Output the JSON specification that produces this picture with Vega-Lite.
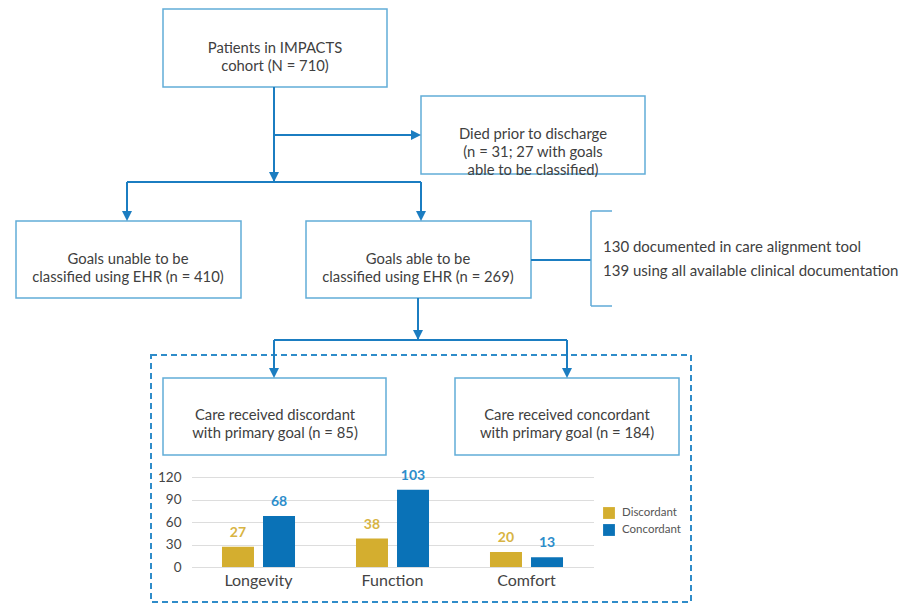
{
  "$schema": "https://vega.github.io/schema/vega-lite/v6.json",
  "width": 914,
  "height": 614,
  "padding": 0,
  "autosize": {"type": "none"},
  "background": "white",
  "config": {"view": {"stroke": null}, "font": "Lato"},
  "datasets": {
    "group": [{"x1": 151, "y1": 355, "x2": 691, "y2": 602}],
    "boxes": [
      {"x1": 163, "y1": 9, "x2": 387, "y2": 87},
      {"x1": 421, "y1": 96, "x2": 645, "y2": 174},
      {"x1": 16, "y1": 221, "x2": 241, "y2": 298},
      {"x1": 306, "y1": 221, "x2": 531, "y2": 298},
      {"x1": 163, "y1": 378, "x2": 386, "y2": 455},
      {"x1": 455, "y1": 378, "x2": 679, "y2": 455}
    ],
    "connectors": [
      {"x1": 274, "y1": 87, "x2": 274, "y2": 182},
      {"x1": 274, "y1": 135, "x2": 418, "y2": 135},
      {"x1": 127, "y1": 182, "x2": 421, "y2": 182},
      {"x1": 127, "y1": 182, "x2": 127, "y2": 219},
      {"x1": 421, "y1": 182, "x2": 421, "y2": 219},
      {"x1": 531, "y1": 260, "x2": 591, "y2": 260},
      {"x1": 418, "y1": 298, "x2": 418, "y2": 340},
      {"x1": 274, "y1": 340, "x2": 567, "y2": 340},
      {"x1": 274, "y1": 340, "x2": 274, "y2": 376},
      {"x1": 567, "y1": 340, "x2": 567, "y2": 376}
    ],
    "bracket": [
      {"x1": 591, "y1": 211, "x2": 591, "y2": 306},
      {"x1": 591, "y1": 211, "x2": 612, "y2": 211},
      {"x1": 591, "y1": 306, "x2": 612, "y2": 306}
    ],
    "arrows": [
      {"x": 274, "y": 182, "dir": "down"},
      {"x": 421, "y": 135, "dir": "right"},
      {"x": 127, "y": 221, "dir": "down"},
      {"x": 421, "y": 221, "dir": "down"},
      {"x": 418, "y": 340, "dir": "down"},
      {"x": 274, "y": 378, "dir": "down"},
      {"x": 567, "y": 378, "dir": "down"}
    ],
    "boxtext": [
      {"x": 275, "y": 49, "label": "Patients in IMPACTS\ncohort (N = 710)"},
      {"x": 533, "y": 135, "label": "Died prior to discharge\n(n = 31; 27 with goals\nable to be classified)"},
      {"x": 128, "y": 260, "label": "Goals unable to be\nclassified using EHR (n = 410)"},
      {"x": 418, "y": 260, "label": "Goals able to be\nclassified using EHR (n = 269)"},
      {"x": 275, "y": 416, "label": "Care received discordant\nwith primary goal (n = 85)"},
      {"x": 567, "y": 416, "label": "Care received concordant\nwith primary goal (n = 184)"}
    ],
    "notes": [
      {"x": 603, "y": 247, "label": "130 documented in care alignment tool"},
      {"x": 603, "y": 271, "label": "139 using all available clinical documentation"}
    ],
    "bars": [
      {"category": "Longevity", "series": "Discordant", "value": 27},
      {"category": "Longevity", "series": "Concordant", "value": 68},
      {"category": "Function", "series": "Discordant", "value": 38},
      {"category": "Function", "series": "Concordant", "value": 103},
      {"category": "Comfort", "series": "Discordant", "value": 20},
      {"category": "Comfort", "series": "Concordant", "value": 13}
    ]
  },
  "layer": [
    {
      "layer": [
        {
          "data": {"name": "group"},
          "mark": {"type": "rect", "fill": "white", "fillOpacity": 0, "stroke": "#2F8CC9", "strokeWidth": 2, "strokeDash": [6, 4]},
          "encoding": {
            "x": {"field": "x1", "type": "quantitative", "scale": {"domain": [0, 914], "range": [0, 914], "nice": false, "zero": false}, "axis": null},
            "x2": {"field": "x2"},
            "y": {"field": "y1", "type": "quantitative", "scale": {"domain": [0, 614], "range": [0, 614], "nice": false, "zero": false}, "axis": null},
            "y2": {"field": "y2"}
          }
        },
        {
          "data": {"name": "boxes"},
          "mark": {"type": "rect", "fill": "white", "stroke": "#62ADD8", "strokeWidth": 1.5},
          "encoding": {
            "x": {"field": "x1", "type": "quantitative", "scale": {"domain": [0, 914], "range": [0, 914], "nice": false, "zero": false}, "axis": null},
            "x2": {"field": "x2"},
            "y": {"field": "y1", "type": "quantitative", "scale": {"domain": [0, 614], "range": [0, 614], "nice": false, "zero": false}, "axis": null},
            "y2": {"field": "y2"}
          }
        },
        {
          "data": {"name": "connectors"},
          "mark": {"type": "rule", "color": "#1B7DC1", "strokeWidth": 2},
          "encoding": {
            "x": {"field": "x1", "type": "quantitative", "scale": {"domain": [0, 914], "range": [0, 914], "nice": false, "zero": false}, "axis": null},
            "x2": {"field": "x2"},
            "y": {"field": "y1", "type": "quantitative", "scale": {"domain": [0, 614], "range": [0, 614], "nice": false, "zero": false}, "axis": null},
            "y2": {"field": "y2"}
          }
        },
        {
          "data": {"name": "bracket"},
          "mark": {"type": "rule", "color": "#5FAAD7", "strokeWidth": 1.5},
          "encoding": {
            "x": {"field": "x1", "type": "quantitative", "scale": {"domain": [0, 914], "range": [0, 914], "nice": false, "zero": false}, "axis": null},
            "x2": {"field": "x2"},
            "y": {"field": "y1", "type": "quantitative", "scale": {"domain": [0, 614], "range": [0, 614], "nice": false, "zero": false}, "axis": null},
            "y2": {"field": "y2"}
          }
        },
        {
          "data": {"name": "arrows"},
          "mark": {"type": "point", "filled": true, "color": "#1B7DC1", "opacity": 1, "size": 100},
          "encoding": {
            "x": {"field": "x", "type": "quantitative", "scale": {"domain": [0, 914], "range": [0, 914], "nice": false, "zero": false}, "axis": null},
            "y": {"field": "y", "type": "quantitative", "scale": {"domain": [0, 614], "range": [0, 614], "nice": false, "zero": false}, "axis": null},
            "shape": {"field": "dir", "type": "nominal", "scale": {"domain": ["down", "right"], "range": ["M-1,-2L1,-2L0,0Z", "M-2,-1L-2,1L0,0Z"]}, "legend": null}
          }
        },
        {
          "data": {"name": "boxtext"},
          "mark": {"type": "text", "lineBreak": "\n", "lineHeight": 18, "fontSize": 14.8, "color": "#404040", "align": "center", "baseline": "middle", "font": "Lato"},
          "encoding": {
            "x": {"field": "x", "type": "quantitative", "scale": {"domain": [0, 914], "range": [0, 914], "nice": false, "zero": false}, "axis": null},
            "y": {"field": "y", "type": "quantitative", "scale": {"domain": [0, 614], "range": [0, 614], "nice": false, "zero": false}, "axis": null},
            "text": {"field": "label"}
          }
        },
        {
          "data": {"name": "notes"},
          "mark": {"type": "text", "fontSize": 15, "color": "#404040", "align": "left", "baseline": "middle", "font": "Lato"},
          "encoding": {
            "x": {"field": "x", "type": "quantitative", "scale": {"domain": [0, 914], "range": [0, 914], "nice": false, "zero": false}, "axis": null},
            "y": {"field": "y", "type": "quantitative", "scale": {"domain": [0, 614], "range": [0, 614], "nice": false, "zero": false}, "axis": null},
            "text": {"field": "label"}
          }
        }
      ]
    },
    {
      "data": {"name": "bars"},
      "encoding": {
        "x": {
          "field": "category", "type": "nominal",
          "scale": {"domain": ["Longevity", "Function", "Comfort"], "range": [191.5, 593.5], "paddingInner": 0.455, "paddingOuter": 0.2275},
          "axis": {"orient": "bottom", "offset": -47, "title": null, "labelAngle": 0, "ticks": false, "tickSize": 0, "domain": false, "grid": false, "labelPadding": 5, "labelFontSize": 16, "labelColor": "#444", "labelFont": "Lato"}
        },
        "xOffset": {"field": "series", "type": "nominal", "scale": {"domain": ["Discordant", "Concordant"], "paddingInner": 0.22, "paddingOuter": 0}},
        "y": {
          "field": "value", "type": "quantitative",
          "scale": {"domain": [0, 120], "range": [567, 477], "nice": false, "zero": true},
          "axis": {"orient": "left", "offset": -181, "title": null, "values": [0, 30, 60, 90, 120], "ticks": false, "tickSize": 0, "domain": false, "labelPadding": 0, "labelFontSize": 13.5, "labelColor": "#444", "labelFont": "Lato", "grid": true, "gridColor": "#dddddd", "gridWidth": 1}
        }
      },
      "layer": [
        {
          "mark": {"type": "bar"},
          "encoding": {
            "color": {
              "field": "series", "type": "nominal",
              "scale": {"domain": ["Discordant", "Concordant"], "range": ["#D4AE2F", "#0A72B7"]},
              "legend": {"orient": "none", "legendX": 603, "legendY": 507, "title": null, "symbolType": "square", "symbolSize": 140, "symbolStrokeWidth": 0, "labelFontSize": 11.5, "labelColor": "#555", "labelFont": "Lato", "rowPadding": 5, "padding": 0, "labelOffset": 7}
            }
          }
        },
        {
          "mark": {"type": "text", "dy": -7, "baseline": "bottom", "fontWeight": "bold", "fontSize": 14, "font": "Lato"},
          "encoding": {
            "text": {"field": "value", "type": "quantitative"},
            "fill": {"field": "series", "type": "nominal", "scale": {"domain": ["Discordant", "Concordant"], "range": ["#D8B443", "#2C8DCB"]}, "legend": null}
          }
        }
      ]
    }
  ],
  "resolve": {
    "scale": {"x": "independent", "y": "independent", "color": "independent", "shape": "independent"},
    "axis": {"x": "independent", "y": "independent"}
  }
}
